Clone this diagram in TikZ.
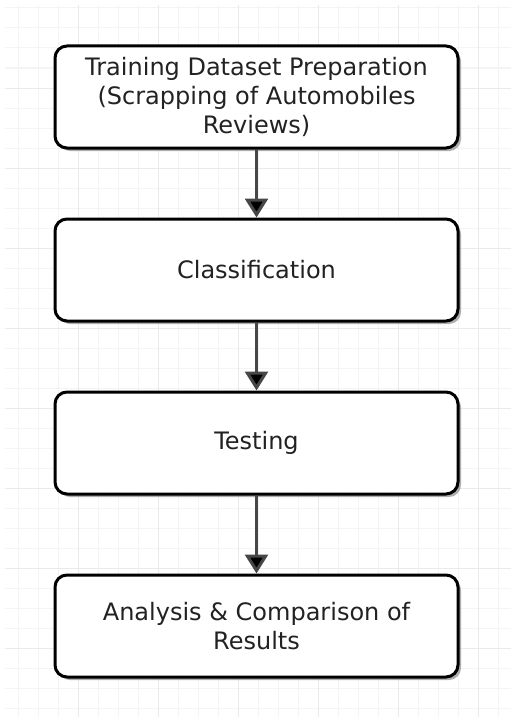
\documentclass[tikz,border=0pt]{standalone}
\usepackage{fontspec}
\setmainfont{DejaVu Sans}
\usetikzlibrary{positioning,arrows.meta,shadows}
\definecolor{gridlight}{HTML}{F4F4F4}
\definecolor{gridmid}{HTML}{EAEAEA}
\definecolor{arrowgray}{HTML}{474747}
\definecolor{textgray}{HTML}{222222}

\begin{document}
\begin{tikzpicture}[x=1pt,y=-1pt,
  stepbox/.style={draw=black, line width=3pt, rounded corners=12pt, fill=white,
    minimum width=403pt, minimum height=102pt, align=center,
    font=\fontsize{24}{29}\selectfont, text=textgray,
    drop shadow={shadow xshift=3pt, shadow yshift=-3pt, fill=black!45, opacity=0.7}},
  flow/.style={draw=arrowgray, line width=3pt, -{Triangle[width=23pt,length=19pt]}},
  gridminor/.style={draw=gridlight, line width=1pt},
  gridmajor/.style={draw=gridmid, line width=1pt}]
  \useasboundingbox (0,0) rectangle (511,717);
  % background grid
  \foreach \gx in {18,38,...,510} \draw[gridminor] (\gx,5) -- (\gx,717);
  \foreach \gy in {8,28,...,716} \draw[gridminor] (5,\gy) -- (511,\gy);
  \foreach \gx in {78,158,...,510} \draw[gridmajor] (\gx,5) -- (\gx,717);
  \foreach \gy in {88,168,...,716} \draw[gridmajor] (5,\gy) -- (511,\gy);
  % steps
  \node[stepbox] (train) at (256.5,97) {Training Dataset Preparation\\(Scrapping of Automobiles\\Reviews)};
  \node[stepbox, below=68pt of train] (classify) {Classification};
  \node[stepbox, below=68pt of classify] (test) {Testing};
  \node[stepbox, below=78pt of test] (analysis) {Analysis \& Comparison of\\Results};
  \path[flow]
  (train) edge (classify)
  (classify) edge (test)
  (test) edge (analysis);
\end{tikzpicture}
\end{document}
